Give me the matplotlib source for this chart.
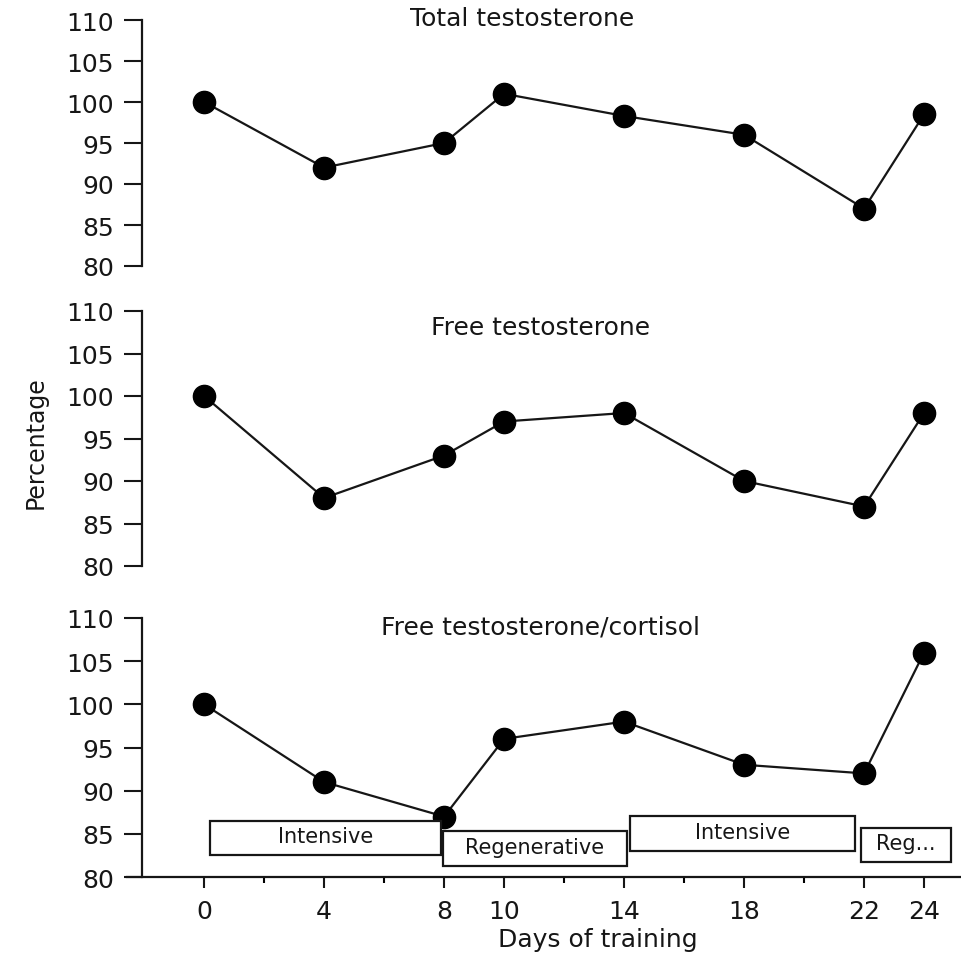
import matplotlib
matplotlib.use("Agg")
import matplotlib.pyplot as plt
from matplotlib.patches import Rectangle

plt.rcParams['font.family'] = ['DejaVu Sans']

# training days and percentage of baseline for each hormone measure
days = [0, 4, 8, 10, 14, 18, 22, 24]
total_t = [100, 92, 95, 101, 98.3, 96, 87, 98.5]
free_t = [100, 88, 93, 97, 98, 90, 87, 98]
free_t_cortisol = [100, 91, 87, 96, 98, 93, 92, 106]

panel_titles = ["Total testosterone", "Free testosterone", "Free testosterone/cortisol"]
major_days = [0, 4, 8, 10, 14, 18, 22, 24]
minor_days = [2, 6, 12, 16, 20]
y_ticks = [80, 85, 90, 95, 100, 105, 110]

# training phases shown along the bottom panel
phase_labels = ["Intensive", "Regenerative", "Intensive", "Reg..."]
phase_start = [0.2, 7.95, 14.2, 21.9]
phase_end = [7.9, 14.1, 21.7, 24.9]

W, H = 961, 954
fig = plt.figure(figsize=(W / 100, H / 100), dpi=100)
ink = "#161616"

# axes boxes in pixels: (top, bottom)
rows = [(21, 267), (312, 567), (619, 878)]
left_px, right_px = 142, 961
x_lo, x_hi = -2.07, 25.23

series = [total_t, free_t, free_t_cortisol]
title_pos = [(10.6, 110.3), (11.2, 108.1), (11.2, 109.0)]

axes = []
for i, ((top, bot), vals) in enumerate(zip(rows, series)):
    ax = fig.add_axes([left_px / W, 1 - bot / H, (right_px - left_px) / W, (bot - top) / H])
    ax.set_xlim(x_lo, x_hi)
    ax.set_ylim(80, 110)
    ax.plot(days, vals, color=ink, lw=1.6, marker="o", ms=16,
            mfc="black", mec="black", clip_on=False, zorder=3)
    ax.set_yticks(y_ticks)
    ax.tick_params(axis="y", direction="out", length=13, width=1.5, pad=7,
                   labelsize=18, colors=ink)
    for s in ["top", "right"]:
        ax.spines[s].set_visible(False)
    ax.spines["left"].set_linewidth(1.6)
    ax.spines["left"].set_color(ink)
    tx, ty = title_pos[i]
    ax.text(tx, ty, panel_titles[i], ha="center", va="center", fontsize=18, color=ink)
    if i < 2:
        ax.spines["bottom"].set_visible(False)
        ax.set_xticks([])
    axes.append(ax)

ax3 = axes[2]
ax3.spines["bottom"].set_linewidth(1.6)
ax3.spines["bottom"].set_color(ink)
ax3.spines["bottom"].set_bounds(x_lo - 0.5, x_hi)
ax3.set_xticks(major_days)
ax3.set_xticks(minor_days, minor=True)
ax3.tick_params(axis="x", which="major", direction="out", length=8, width=1.5,
                pad=8, labelsize=18, colors=ink)
ax3.tick_params(axis="x", which="minor", direction="out", length=4, width=1.5)

# phase boxes
box_y = [(82.5, 86.5), (81.3, 85.3), (83.0, 87.1), (81.7, 85.7)]
for lab, x0, x1, (y0, y1) in zip(phase_labels, phase_start, phase_end, box_y):
    ax3.add_patch(Rectangle((x0, y0), x1 - x0, y1 - y0, fill=True, fc="white",
                            ec=ink, lw=1.6, zorder=4, clip_on=False))
    ax3.text((x0 + x1) / 2, (y0 + y1) / 2 + 0.2, lab, ha="center", va="center",
             fontsize=15, color=ink, zorder=5)

fig.text(36 / W, 1 - 443 / H, "Percentage", rotation=90, ha="center", va="center",
         fontsize=17, color=ink)
fig.text(598 / W, 1 - 940 / H, "Days of training", ha="center", va="center",
         fontsize=18, color=ink)

fig.savefig("out.png", dpi=100, facecolor="white")
